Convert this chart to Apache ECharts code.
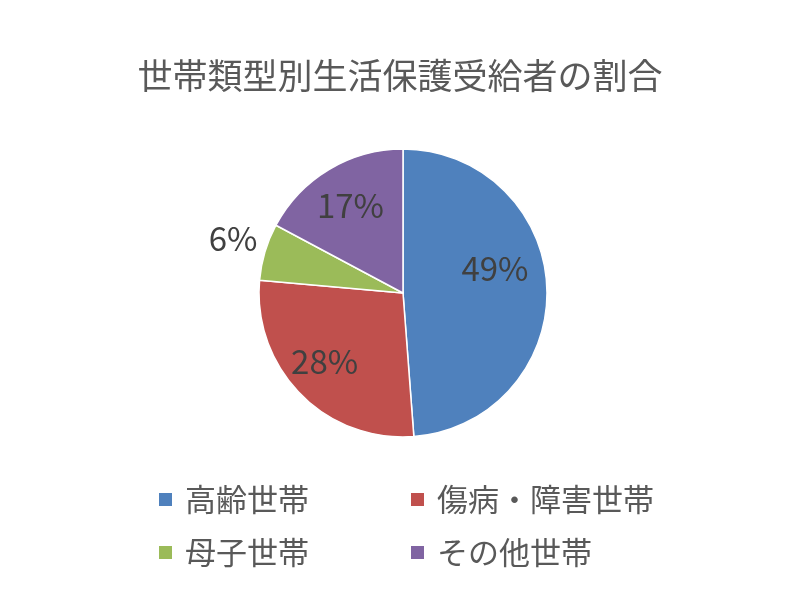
<!DOCTYPE html>
<html>
<head>
<meta charset="utf-8">
<script src="https://cdn.jsdelivr.net/npm/echarts@6/dist/echarts.min.js"></script>
<style>html,body{margin:0;padding:0;background:#fff}#c{width:800px;height:600px}</style>
</head>
<body>
<div id="c"></div>
<script>
const titleText = '世帯類型別生活保護受給者の割合';
const categories = ['高齢世帯', '傷病・障害世帯', '母子世帯', 'その他世帯'];
const shares = [48.8, 27.6, 6.4, 17.2];
const colors = ['#4F81BD', '#C0504D', '#9BBB59', '#8064A2'];
const labelOffsets = [[17, -22], [-25, 16], [-98, -33], [-14, -23]];

const FONT = '"Noto Sans CJK JP", "Noto Sans", sans-serif';
const chart = echarts.init(document.getElementById('c'));
const legendCommon = {
  orient: 'horizontal',
  left: 152,
  itemWidth: 15,
  itemHeight: 15,
  itemGap: 100,
  icon: 'rect',
  textStyle: { fontSize: 31, color: '#595959', fontFamily: FONT, padding: [0, 0, 0, 7] },
  selectedMode: false
};
chart.setOption({
  backgroundColor: '#fff',
  title: {
    text: titleText,
    left: 'center',
    top: 53,
    textStyle: { fontSize: 35, fontWeight: 'normal', color: '#595959', fontFamily: FONT }
  },
  legend: [
    Object.assign({}, legendCommon, { top: 479, data: [categories[0], categories[1]] }),
    Object.assign({}, legendCommon, { top: 532, data: [categories[2], categories[3]] })
  ],
  series: [{
    type: 'pie',
    center: [403, 293],
    radius: 144,
    startAngle: 90,
    clockwise: true,
    animation: false,
    itemStyle: { borderColor: '#fff', borderWidth: 1.5 },
    label: {
      position: 'inner',
      fontSize: 33,
      color: '#404040',
      fontFamily: FONT,
      formatter: p => Math.round(p.percent) + '%'
    },
    labelLine: { show: false },
    emphasis: { disabled: true },
    data: categories.map((c, i) => ({
      name: c,
      value: shares[i],
      itemStyle: { color: colors[i] },
      label: { offset: labelOffsets[i] }
    }))
  }]
});
</script>
</body>
</html>
